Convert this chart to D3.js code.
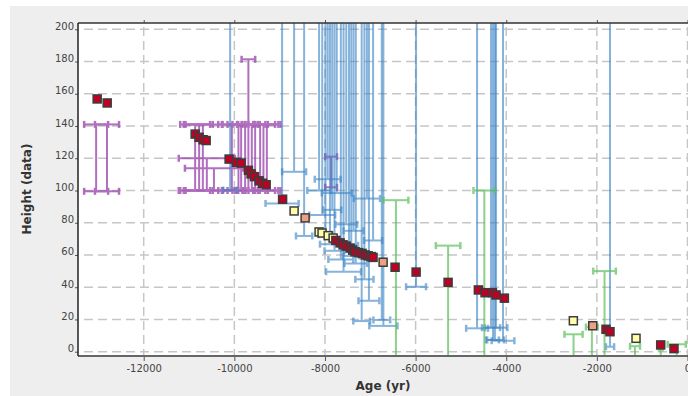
<!DOCTYPE html>
<html>
<head>
<meta charset="utf-8">
<script src="https://cdn.jsdelivr.net/npm/d3@7"></script>
<style>
  body { margin: 0; background: #fff; }
  svg { display: block; }
</style>
</head>
<body>
<svg id="chart" width="688" height="396"></svg>
<script>
// dated samples
const pointAges = [-13027, -12806, -10865, -10777, -10689, -10622, -10115, -9953, -9850, -9689, -9630, -9556, -9453, -9380, -9298,
  -8935, -8681, -8438, -8130, -8064, -7930, -7820, -7760, -7666, -7600, -7530, -7445, -7390, -7335, -7260, -7181, -7110, -7048,
  -6980, -6939, -6717, -6453, -5989, -5283, -4615, -4467, -4306, -4224, -4041, -2519, -2091, -1798, -1710, -1136, -591, -298];
const pointDepths = [156.8, 154.3, 135, 133, 131.5, 131, 119.5, 117.5, 117, 112.5, 110.3, 108.6, 106, 104.5, 103.6,
  94.6, 87.3, 83, 74.3, 73.6, 72, 70.5, 69, 67.5, 66.3, 65.5, 64.3, 63, 62, 61.5, 61, 60, 59.5,
  59, 58.5, 55.5, 52.4, 49.4, 43, 38.3, 36.6, 36.6, 35.2, 33.2, 19.2, 16.1, 13.9, 12.4, 8.3, 4.2, 1.9];
const pointKinds = ['r', 'r', 'r', 'r', 'r', 'r', 'r', 'r', 'r', 'r', 'r', 'r', 'r', 'r', 'r',
  'r', 'y', 's', 'y', 'y', 'y', 'y', 'r', 'r', 'r', 'r', 'r', 'r', 'r', 'r', 'r', 'r', 'r',
  'r', 'r', 's', 'r', 'r', 'r', 'r', 'r', 'r', 'r', 'r', 'y', 's', 'r', 'r', 'y', 'r', 'r'];

// lower limits (line goes up)
const blueAges = [-10093, -8946, -8681, -8460, -8130, -8060, -7990, -7940, -7890, -7840, -7790, -7740, -7650, -7590, -7530, -7470,
  -7420, -7370, -7320, -7190, -7130, -7075, -7030, -6938, -6746, -6711, -5990, -4644, -4335, -4291, -4250, -4225, -4071, -1710];
const blueDepths = [100.3, 92, 111.6, 71.8, 100, 84.8, 72.6, 107, 66.7, 88, 62.6, 98.4, 57.2, 49.6, 79, 66,
  59.4, 75, 54.7, 19, 44.9, 95, 31.6, 69, 19.7, 16, 40.3, 14.5, 14.9, 7.3, 7.3, 14.9, 6.8, 3.1];
const blueErrs = [150, 365, 265, 180, 260, 285, 150, 285, 220, 200, 220, 330, 275, 385, 240, 200,
  180, 220, 250, 185, 200, 290, 230, 200, 185, 310, 220, 240, 200, 130, 200, 250, 250, 90];

// upper limits (line goes down)
const greenAges = [-6434, -5283, -4483, -2515, -2110, -1831, -1158, -591, -238];
const greenDepths = [94, 65.8, 100, 10.8, 15.3, 50, 3.4, 2.5, 4.6];
const greenErrs = [275, 270, 240, 200, 130, 250, 110, 40, 200];

// bounded ranges
const purpleAges = [-13050, -12810, -10865, -10777, -10695, -10607, -10450, -10055, -9909, -9850, -9762, -9690, -9690,
  -9615, -9541, -9431, -9358, -9283, -7865];
const purpleTops = [141, 141, 141, 141, 141, 120, 113.8, 141, 141, 141, 141, 181.4, 141, 141, 141, 141, 141, 141, 121];
const purpleBases = [99.5, 99.5, 100, 100, 100, 100, 100, 100, 100, 100, 100, 141, 100, 100, 100, 100, 100, 100, 102];
const purpleErrs = [265, 265, 330, 300, 420, 620, 640, 300, 350, 300, 280, 150, 250, 300, 280, 330, 330, 300, 130];

const xTicks = [-12000, -10000, -8000, -6000, -4000, -2000, 0];
const yTicks = [0, 20, 40, 60, 80, 100, 120, 140, 160, 180, 200];

const plot = { left: 78, top: 23, right: 700, bottom: 356 };
const kindColor = { r: '#bf0025', y: '#ffffaa', s: '#eea080' };

const svg = d3.select('#chart');
svg.append('rect').attr('x', 10).attr('y', 6).attr('width', 678).attr('height', 390).attr('fill', '#eeeeee');
svg.append('rect').attr('x', plot.left).attr('y', plot.top)
  .attr('width', plot.right - plot.left).attr('height', plot.bottom - plot.top).attr('fill', '#fff');

const x = d3.scaleLinear().domain([-13450, 0]).range([78, 687.5]);
const y = d3.scaleLinear().domain([0, 200]).range([351.7, 29.3]);

svg.append('clipPath').attr('id', 'clip').append('rect')
  .attr('x', plot.left).attr('y', plot.top)
  .attr('width', plot.right - plot.left).attr('height', plot.bottom - plot.top);

// grid
const grid = svg.append('g').attr('stroke', '#c6c6c6').attr('stroke-width', 1.5).attr('stroke-dasharray', '9,5');
grid.selectAll('.gy').data(yTicks).enter().append('line')
  .attr('x1', plot.left + 6).attr('x2', plot.right).attr('y1', d => y(d)).attr('y2', d => y(d));
grid.selectAll('.gx').data(xTicks).enter().append('line')
  .attr('y1', plot.top + 4).attr('y2', plot.bottom).attr('x1', d => x(d)).attr('x2', d => x(d));

const marks = svg.append('g').attr('clip-path', 'url(#clip)');

function hbar(g, cx, err, v, color) {
  g.append('line').attr('x1', x(cx - err)).attr('x2', x(cx + err)).attr('y1', y(v)).attr('y2', y(v))
    .attr('stroke', color).attr('stroke-width', 2);
  [cx - err, cx + err].forEach(e => {
    g.append('line').attr('x1', x(e)).attr('x2', x(e)).attr('y1', y(v) - 3.5).attr('y2', y(v) + 3.5)
      .attr('stroke', color).attr('stroke-width', 2.5);
  });
}

const purple = marks.append('g').attr('opacity', 0.78);
purpleAges.forEach((a, i) => {
  const c = '#9c48ae';
  purple.append('line').attr('x1', x(a)).attr('x2', x(a)).attr('y1', y(purpleTops[i])).attr('y2', y(purpleBases[i]))
    .attr('stroke', c).attr('stroke-width', 2);
  hbar(purple, a, purpleErrs[i], purpleTops[i], c);
  hbar(purple, a, purpleErrs[i], purpleBases[i], c);
});

blueAges.forEach((a, i) => {
  const g = marks.append('g').attr('opacity', 0.62);
  const c = '#3d85c6';
  g.append('line').attr('x1', x(a)).attr('x2', x(a)).attr('y1', y(blueDepths[i])).attr('y2', plot.top - 5)
    .attr('stroke', c).attr('stroke-width', 2);
  hbar(g, a, blueErrs[i], blueDepths[i], c);
});

greenAges.forEach((a, i) => {
  const g = marks.append('g').attr('opacity', 0.7);
  const c = '#5cbf5c';
  g.append('line').attr('x1', x(a)).attr('x2', x(a)).attr('y1', y(greenDepths[i])).attr('y2', plot.bottom + 5)
    .attr('stroke', c).attr('stroke-width', 2);
  hbar(g, a, greenErrs[i], greenDepths[i], c);
});

// samples
marks.append('g').selectAll('rect').data(pointAges).enter().append('rect')
  .attr('x', d => x(d) - 4).attr('y', (d, i) => y(pointDepths[i]) - 4)
  .attr('width', 8).attr('height', 8)
  .attr('fill', (d, i) => kindColor[pointKinds[i]])
  .attr('stroke', '#3c3c3c').attr('stroke-width', 1.5);

// axes
const font = "'DejaVu Sans', sans-serif";
const yAxis = svg.append('g').attr('transform', `translate(${plot.left},0)`)
  .call(d3.axisLeft(y).tickValues(yTicks).tickSize(3).tickPadding(1));
yAxis.selectAll('text').attr('dy', '0').attr('font-size', 10).attr('font-family', font).attr('fill', '#444');

const xAxis = svg.append('g').attr('transform', `translate(0,${plot.bottom})`)
  .call(d3.axisBottom(x).tickValues(xTicks).tickSize(5).tickPadding(4).tickFormat(d => String(d)));
xAxis.selectAll('text').attr('font-size', 10).attr('font-family', font).attr('fill', '#444');

const topAxis = svg.append('g').attr('transform', `translate(0,${plot.top})`)
  .call(d3.axisTop(x).tickValues(xTicks).tickSize(3).tickFormat(''));

[yAxis, xAxis, topAxis].forEach(a => {
  a.select('.domain').remove();
  a.selectAll('line').attr('stroke', '#555');
});

svg.append('line').attr('x1', plot.left).attr('x2', plot.right).attr('y1', plot.top).attr('y2', plot.top)
  .attr('stroke', '#333').attr('stroke-width', 1.5);
svg.append('line').attr('x1', plot.left).attr('x2', plot.right).attr('y1', plot.bottom).attr('y2', plot.bottom)
  .attr('stroke', '#666').attr('stroke-width', 2);
svg.append('line').attr('x1', plot.left).attr('x2', plot.left).attr('y1', plot.top).attr('y2', plot.bottom)
  .attr('stroke', '#222').attr('stroke-width', 1.5);

svg.append('text').attr('transform', 'translate(31,189) rotate(-90)')
  .attr('text-anchor', 'middle').attr('font-family', font).attr('font-size', 12).attr('font-weight', 'bold')
  .attr('fill', '#333').text('Height (data)');
svg.append('text').attr('x', 383).attr('y', 390)
  .attr('text-anchor', 'middle').attr('font-family', font).attr('font-size', 12).attr('font-weight', 'bold')
  .attr('fill', '#333').text('Age (yr)');
</script>
</body>
</html>
